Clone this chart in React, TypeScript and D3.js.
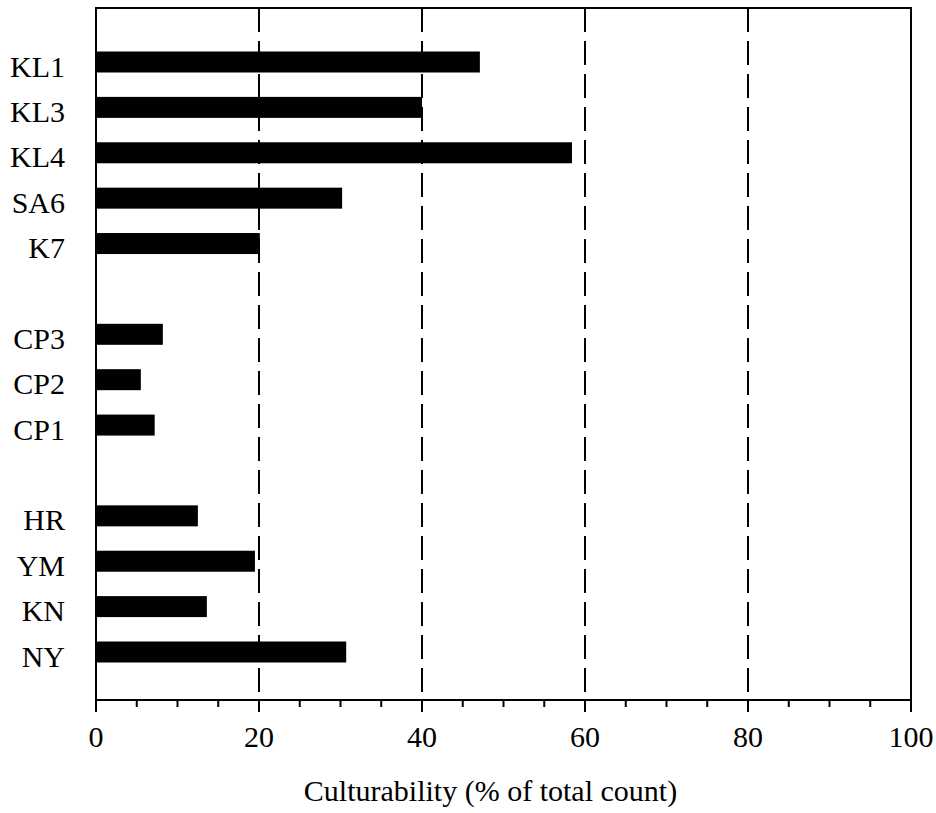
import * as d3 from "d3";

// slots: blank strings separate the three site groups
const categories: string[] = ["KL1", "KL3", "KL4", "SA6", "K7", "", "CP3", "CP2", "CP1", " ", "HR", "YM", "KN", "NY"];
const values: (number | null)[] = [47.1, 40, 58.4, 30.2, 20.1, null, 8.2, 5.5, 7.2, null, 12.5, 19.5, 13.6, 30.7];
const majorTicks: number[] = [0, 20, 40, 60, 80, 100];
const gridTicks: number[] = [20, 40, 60, 80];
const xTitle = "Culturability (% of total count)";

export default function App() {
    const width = 936;
    const height = 813;
    const margin = { top: 8, right: 25, bottom: 113, left: 96 };
    const innerW = width - margin.left - margin.right;
    const innerH = height - margin.top - margin.bottom;

    const xScale = d3.scaleLinear().domain([0, 100]).range([0, innerW]);
    const yScale = d3
        .scalePoint<string>()
        .domain(categories)
        .range([54, innerH - 48]);
    const barH = 21;
    const minorTicks = d3.range(0, 101, 5).filter(t => t % 20 !== 0);
    const font = "'Liberation Serif', 'Times New Roman', serif";

    return (
        <svg width={width} height={height} style={{ display: "block", position: "absolute", left: 0, top: 0 }}>
            <rect width={width} height={height} fill="#fff" />
            <g transform={`translate(${margin.left},${margin.top})`}>
                {gridTicks.map(t => (
                    <line key={"g" + t} x1={xScale(t)} x2={xScale(t)} y1={0} y2={innerH} stroke="#000" strokeWidth={2} strokeDasharray="24,9" />
                ))}
                {categories.map((c, i) =>
                    values[i] == null ? null : (
                        <rect key={c} x={0} y={yScale(c)! - barH / 2} width={xScale(values[i] as number)} height={barH} fill="#000" />
                    )
                )}
                {categories.map((c, i) =>
                    values[i] == null ? null : (
                        <text key={"l" + c} x={-31} y={yScale(c)! + 4} dy="0.35em" textAnchor="end" fontFamily={font} fontSize={30} fill="#000">
                            {c}
                        </text>
                    )
                )}
                <rect x={0} y={0} width={innerW} height={innerH} fill="none" stroke="#000" strokeWidth={2} />
                {minorTicks.map(t => (
                    <line key={"m" + t} x1={xScale(t)} x2={xScale(t)} y1={innerH} y2={innerH + 7} stroke="#000" strokeWidth={2} />
                ))}
                {majorTicks.map(t => (
                    <g key={"t" + t} transform={`translate(${xScale(t)},${innerH})`}>
                        <line y1={0} y2={12} stroke="#000" strokeWidth={2} />
                        <text y={47} textAnchor="middle" fontFamily={font} fontSize={30} fill="#000">
                            {t}
                        </text>
                    </g>
                ))}
                <text x={innerW / 2 - 13} y={innerH + 101} textAnchor="middle" fontFamily={font} fontSize={30} fill="#000">
                    {xTitle}
                </text>
            </g>
        </svg>
    );
}
